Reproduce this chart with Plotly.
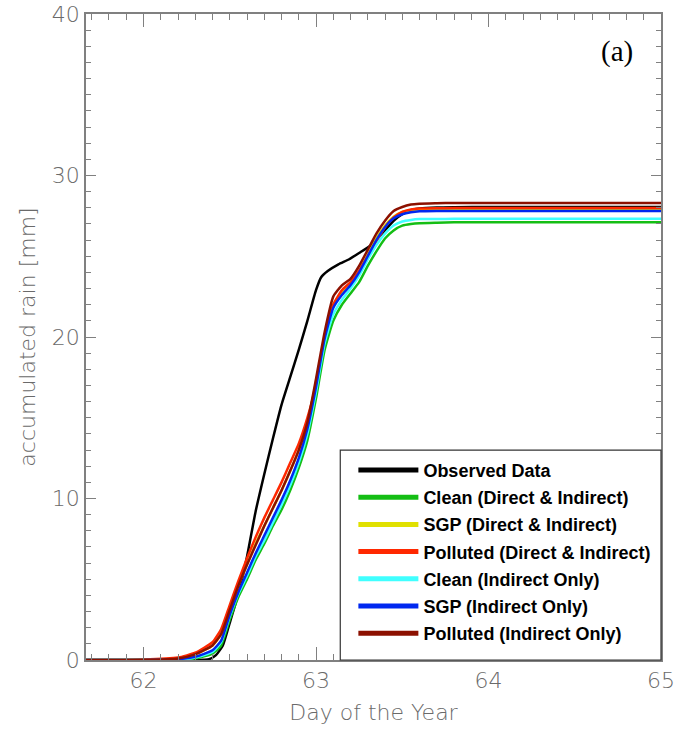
import plotly.graph_objects as go

# ---- data ----
days = [61.667, 62.0, 62.2, 62.3, 62.4, 62.45, 62.5, 62.55, 62.6, 62.65, 62.7, 62.75,
        62.8, 62.85, 62.9, 62.95, 63.0, 63.05, 63.1, 63.15, 63.2, 63.25, 63.3, 63.35,
        63.4, 63.45, 63.5, 63.55, 63.6, 63.7, 63.8, 64.0, 65.0]

clean_di = [0, 0, 0.02, 0.1, 0.4, 0.9, 2.5, 3.9, 5.0, 6.2, 7.2, 8.3, 9.3, 10.5, 11.9, 13.6,
            16.2, 19.2, 21.0, 22.0, 22.7, 23.4, 24.4, 25.3, 26.1, 26.6, 26.9, 27.0, 27.05,
            27.08, 27.1, 27.1, 27.1]
sgp_di = [0, 0.01, 0.1, 0.35, 0.9, 1.6, 3.1, 4.6, 5.9, 7.2, 8.3, 9.4, 10.5, 11.7, 13.0, 14.7,
          17.2, 20.0, 22.0, 22.8, 23.3, 24.1, 25.1, 26.1, 26.9, 27.45, 27.75, 27.85, 27.9,
          27.92, 27.92, 27.92, 27.92]
polluted_di = [0, 0.02, 0.15, 0.45, 1.1, 1.9, 3.4, 4.9, 6.3, 7.6, 8.8, 9.9, 11.0, 12.2, 13.4,
               15.0, 17.0, 20.0, 22.0, 22.9, 23.4, 24.1, 25.0, 25.9, 26.8, 27.4, 27.75, 27.9,
               27.95, 27.97, 27.98, 27.98, 27.98]
clean_io = [0, 0, 0.03, 0.15, 0.5, 1.1, 2.7, 4.1, 5.2, 6.4, 7.4, 8.5, 9.6, 10.8, 12.2, 14.0,
            16.6, 19.6, 21.4, 22.3, 23.0, 23.8, 24.8, 25.7, 26.4, 26.9, 27.15, 27.25, 27.3,
            27.3, 27.32, 27.32, 27.32]
sgp_io = [0, 0, 0.05, 0.2, 0.6, 1.2, 2.8, 4.2, 5.4, 6.6, 7.7, 8.8, 9.9, 11.1, 12.5, 14.3,
          16.9, 19.9, 21.8, 22.6, 23.2, 24.0, 25.0, 26.0, 26.8, 27.35, 27.6, 27.72, 27.78,
          27.8, 27.8, 27.8, 27.8]
polluted_io = [0, 0.01, 0.1, 0.35, 0.9, 1.6, 3.1, 4.6, 5.9, 7.1, 8.3, 9.4, 10.5, 11.7, 13.0,
               14.7, 17.4, 20.3, 22.5, 23.2, 23.6, 24.4, 25.4, 26.4, 27.2, 27.8, 28.05, 28.2,
               28.25, 28.28, 28.3, 28.3, 28.3]

obs_days = [61.667, 62.0, 62.3, 62.38, 62.42, 62.46, 62.5, 62.55, 62.6, 62.65, 62.7, 62.75,
            62.8, 62.85, 62.9, 62.95, 63.0, 63.03, 63.07, 63.13, 63.19, 63.25, 63.32, 63.4,
            63.45, 63.5, 63.55, 63.6, 63.7, 63.8, 64.0, 65.0]
observed = [0, 0, 0, 0.05, 0.3, 0.9, 2.3, 4.1, 6.4, 9.2, 11.5, 13.7, 15.8, 17.5, 19.2, 21.0,
            22.9, 23.7, 24.1, 24.5, 24.8, 25.2, 25.7, 26.6, 27.2, 27.6, 27.85, 27.95, 28.02,
            28.04, 28.05, 28.05]

names = ["Observed Data", "Clean (Direct & Indirect)", "SGP (Direct & Indirect)",
         "Polluted (Direct & Indirect)", "Clean (Indirect Only)", "SGP (Indirect Only)",
         "Polluted (Indirect Only)"]
colors = ["#000000", "#14be14", "#e0e000", "#ff2800", "#40ffff", "#0028f0", "#8c1000"]
series = [(obs_days, observed), (days, clean_di), (days, sgp_di), (days, polluted_di),
          (days, clean_io), (days, sgp_io), (days, polluted_io)]

fig = go.Figure()
for i, ((xs, ys), nm, c) in enumerate(zip(series, names, colors)):
    fig.add_trace(go.Scatter(x=xs, y=ys, mode="lines", name=nm, showlegend=False,
                             line=dict(color=c, width=2.5, shape="spline", smoothing=0.5)))
# legend-only entries with thicker sample lines
for i, (nm, c) in enumerate(zip(names, colors)):
    fig.add_trace(go.Scatter(x=[None], y=[None], mode="lines", name=nm, legendgroup=str(i),
                             line=dict(color=c, width=5)))

axis_col = "#808080"
txt_col = "#6a6a6a"
tick_font = dict(family="DejaVu Sans", size=22, color=txt_col, weight=200)

fig.update_layout(
    width=678, height=732,
    margin=dict(l=86, r=17, t=14, b=72),
    paper_bgcolor="white", plot_bgcolor="white",
    showlegend=True,
    legend=dict(x=0.465, y=0.3223, xanchor="left", yanchor="top",
                bgcolor="rgba(0,0,0,0)", borderwidth=0,
                font=dict(family="Liberation Sans", size=18, color="black", weight="bold"),
                itemwidth=60, tracegroupgap=0.8),
    shapes=[dict(type="rect", xref="paper", yref="paper", x0=0.4422, x1=1.0, y0=0, y1=0.325,
                 line=dict(color="#333333", width=1.2), fillcolor="white", layer="above")],
    annotations=[dict(text="(a)", xref="paper", yref="paper", x=0.9236, y=0.9412,
                      xanchor="center", yanchor="middle", showarrow=False,
                      font=dict(family="Liberation Serif", size=29, color="black"))],
)

fig.update_xaxes(range=[61.6667, 65], tickvals=[62, 63, 64, 65], ticks="inside", ticklen=13,
                 tickcolor=axis_col, tickwidth=1.2, showline=True, linecolor=axis_col,
                 linewidth=1.5, mirror="ticks", showgrid=False, zeroline=False,
                 tickfont=tick_font, automargin=False, ticklabeloverflow="allow",
                 minor=dict(tick0=62, dtick=0.1, ticks="inside", ticklen=6, tickcolor=axis_col,
                            tickwidth=1.2, showgrid=False),
                 title=dict(text="Day of the Year",
                            font=dict(family="DejaVu Sans", size=22, color=txt_col, weight=200),
                            standoff=12))
fig.update_yaxes(range=[0, 40], tickvals=[0, 10, 20, 30, 40], ticks="inside", ticklen=10,
                 tickcolor=axis_col, tickwidth=1.2, showline=True, linecolor=axis_col,
                 linewidth=1.5, mirror="ticks", showgrid=False, zeroline=False,
                 tickfont=tick_font, automargin=False, ticklabeloverflow="allow",
                 minor=dict(tick0=0, dtick=1, ticks="inside", ticklen=5, tickcolor=axis_col,
                            tickwidth=1.2, showgrid=False),
                 title=dict(text="accumulated rain [mm]",
                            font=dict(family="DejaVu Sans", size=22, color=txt_col, weight=200),
                            standoff=10))

fig.write_html("out.html", config={"displayModeBar": False},
               post_script="document.body.style.margin='0';")
